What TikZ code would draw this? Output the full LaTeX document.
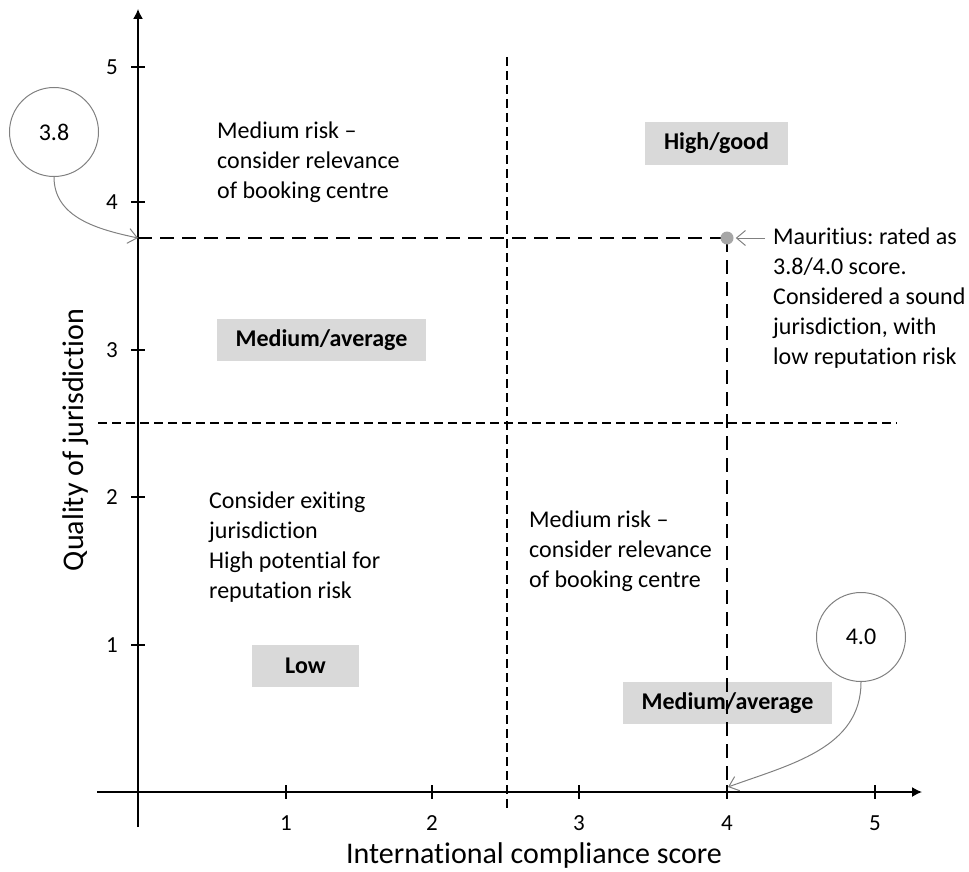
\documentclass[tikz,border=0pt]{standalone}
\usepackage{fontspec}
\setmainfont{Carlito}[Ligatures={NoCommon}]
\usetikzlibrary{arrows.meta}
\definecolor{boxgray}{HTML}{D9D9D9}
\definecolor{bubblegray}{HTML}{808080}
\definecolor{dotgray}{HTML}{A6A6A6}
\frenchspacing
\begin{document}
\begin{tikzpicture}[x=1pt,y=-1pt,
  axis/.style={line width=1.4pt, -{Latex[length=10pt,width=10pt]}},
  tickmark/.style={line width=1.2pt},
  thindash/.style={line width=1.1pt, dash pattern=on 9pt off 5pt},
  thickdash/.style={line width=2.2pt, dash pattern=on 14pt off 8pt},
  body/.style={font=\fontsize{24}{30}\selectfont, align=left, inner sep=0pt, anchor=west},
  tlab/.style={font=\fontsize{23}{27}\selectfont, inner sep=0pt},
  axtitle/.style={font=\fontsize{30}{34}\selectfont, inner sep=0pt},
  graybox/.style={fill=boxgray, font=\bfseries\fontsize{24}{28}\selectfont, minimum height=42pt, inner sep=0pt},
  bubble/.style={circle, draw=bubblegray, line width=1pt, minimum size=89pt, inner sep=0pt, font=\fontsize{24}{28}\selectfont},
  pointer/.style={draw=bubblegray, line width=1pt, -{Straight Barb[length=9pt,width=15pt]}},
]
\useasboundingbox (0,0) rectangle (969,872);

% gray label boxes
\node[graybox, minimum width=209pt] (mavgL) at (321.5,340) {Medium/average};
\node[graybox, minimum width=143pt] (high) at (716.5,143.5) {High/good};
\node[graybox, minimum width=107pt] (low) at (305.5,666) {Low};
\node[graybox, minimum width=209pt] (mavgR) at (727.5,703) {Medium/average};

% quadrant dividers
\coordinate (hl) at (98,423);  \coordinate (hr) at (897,423);
\coordinate (vt) at (507,57);  \coordinate (vb) at (507,812);
\draw[thindash] (hl) -- (hr);
\draw[thindash] (vt) -- (vb);

% axes
\coordinate (xs) at (97,792); \coordinate (xe) at (922,792);
\coordinate (ys) at (138,827); \coordinate (ye) at (138,9);
\draw[axis] (xs) -- (xe);
\draw[axis] (ys) -- (ye);

% ticks and labels
\foreach \v/\px in {1/286,2/432,3/579,4/727,5/875}{
  \draw[tickmark] (\px,785) -- (\px,799);
  \node[tlab] (xl\v) at (\px,823) {\v};
}
\foreach \v/\py in {1/645,2/497,3/350,4/202,5/67}{
  \draw[tickmark] (131,\py) -- (145,\py);
  \node[tlab] (yl\v) at (112,\py) {\v};
}

% axis titles
\node[axtitle] (xtitle) at (534,855) {International compliance score};
\node[axtitle, rotate=90] (ytitle) at (76,440) {Quality of jurisdiction};

% Mauritius point
\coordinate (pt) at (727,238);
\coordinate (y38) at (138,238);
\coordinate (x40) at (727,792);
\draw[thickdash] (y38) -- (pt);
\draw[thickdash] (pt) -- (x40);
\node[circle, fill=dotgray, minimum size=13pt, inner sep=0pt] (dot) at (pt) {};

% texts
\node[body] (tl) at (217,162) {Medium risk --\\consider relevance\\of booking centre};
\node[body] (bl) at (209,547) {Consider exiting\\jurisdiction\\High potential for\\reputation risk};
\node[body] (bm) at (529,551) {Medium risk --\\consider relevance\\of booking centre};
\node[body] (maur) at (773,298) {Mauritius: rated as\\3.8/4.0 score.\\Considered a sound\\jurisdiction, with\\low reputation risk};

\coordinate (mstart) at (765,238);
\draw[pointer] (mstart) -- ([xshift=2pt]dot.east);

% bubbles
\node[bubble] (b38) at (54,132) {3.8};
\node[bubble] (b40) at (861,637) {4.0};
\coordinate (x40t) at (728,787);
\draw[pointer] (b38.south) to[out=-90,in=168] (y38);
\draw[pointer] (b40.south) to[out=-90,in=20] (x40t);
\end{tikzpicture}
\end{document}
